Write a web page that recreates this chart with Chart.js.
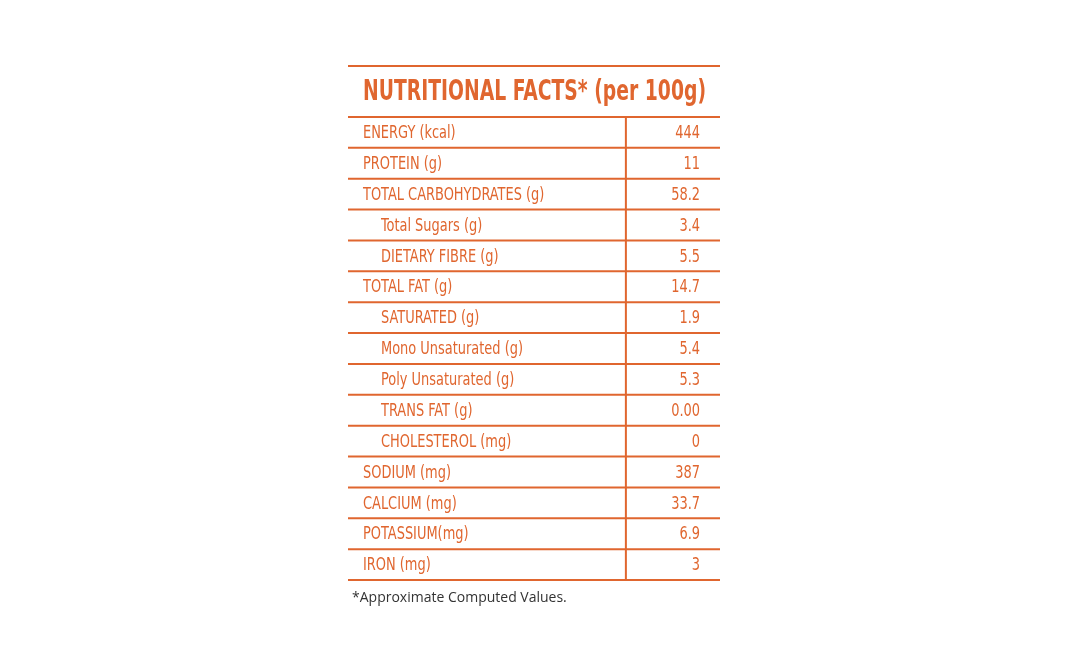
<!DOCTYPE html>
<html>
<head>
<meta charset="utf-8">
<script src="https://cdn.jsdelivr.net/npm/chart.js@4"></script>
<style>
  html, body { margin: 0; padding: 0; background: #fff; }
  #wrap { width: 1068px; height: 671px; }
</style>
</head>
<body>
<div id="wrap"><canvas id="tabla"></canvas></div>
<script>
// Datos de la tabla nutricional
const nutrientes = ['ENERGY (kcal)', 'PROTEIN (g)', 'TOTAL CARBOHYDRATES (g)', 'Total Sugars (g)', 'DIETARY FIBRE (g)',
  'TOTAL FAT (g)', 'SATURATED (g)', 'Mono Unsaturated (g)', 'Poly Unsaturated (g)', 'TRANS FAT (g)',
  'CHOLESTEROL (mg)', 'SODIUM (mg)', 'CALCIUM (mg)', 'POTASSIUM(mg)', 'IRON (mg)'];
const valores = [444, 11, 58.2, 3.4, 5.5, 14.7, 1.9, 5.4, 5.3, 0, 0, 387, 33.7, 6.9, 3];
const textoValores = ['444', '11', '58.2', '3.4', '5.5', '14.7', '1.9', '5.4', '5.3', '0.00', '0', '387', '33.7', '6.9', '3'];
const sangria = [false, false, false, true, true, false, true, true, true, true, true, false, false, false, false];
const titulo = 'NUTRITIONAL FACTS* (per 100g)';
const nota = '*Approximate Computed Values.';

const naranja = '#e0662f';
const fuente = '"Liberation Sans Narrow", "DejaVu Sans Condensed", "Roboto", sans-serif';

// Texto comprimido horizontalmente (fuente condensada)
function textoEstrecho(ctx, txt, x, y, factor) {
  const ancho = ctx.measureText(txt).width * factor;
  ctx.fillText(txt, x, y, ancho);
}

// Plugin que dibuja la tabla usando la escala y
const tablaPlugin = {
  id: 'tabla',
  afterDraw(chart) {
    const ctx = chart.ctx;
    const area = chart.chartArea;
    const y = chart.scales.y;
    const alto = (area.bottom - area.top) / nutrientes.length;
    const colDiv = area.left + (area.right - area.left) * 0.747;
    ctx.save();
    ctx.strokeStyle = naranja;
    ctx.fillStyle = naranja;
    ctx.lineWidth = 2;

    // Encabezado
    ctx.beginPath();
    ctx.moveTo(area.left, area.top - 51); ctx.lineTo(area.right, area.top - 51);
    ctx.stroke();
    ctx.font = 'bold 28px ' + fuente;
    ctx.textBaseline = 'middle';
    ctx.textAlign = 'left';
    ctx.fillText(titulo, area.left + 15, area.top - 24, 343);

    // Filas
    for (let i = 0; i < nutrientes.length; i++) {
      const yc = y.getPixelForValue(i);
      const top = yc - alto / 2;
      ctx.beginPath();
      ctx.moveTo(area.left, top); ctx.lineTo(area.right, top);
      ctx.stroke();
      ctx.font = '18px ' + fuente;
      ctx.textAlign = 'left';
      textoEstrecho(ctx, nutrientes[i], area.left + (sangria[i] ? 33 : 15), yc + 1, 0.8);
      ctx.textAlign = 'right';
      textoEstrecho(ctx, textoValores[i], area.right - 20, yc + 1, 0.8);
    }
    ctx.beginPath();
    ctx.moveTo(area.left, area.bottom); ctx.lineTo(area.right, area.bottom);
    ctx.stroke();

    // Divisor vertical
    ctx.beginPath();
    ctx.moveTo(colDiv, area.top); ctx.lineTo(colDiv, area.bottom);
    ctx.stroke();

    // Nota al pie
    ctx.fillStyle = '#333';
    ctx.font = '14px "Open Sans", sans-serif';
    ctx.textAlign = 'left';
    ctx.fillText(nota, area.left + 4, area.bottom + 18);
    ctx.restore();
  }
};

new Chart(document.getElementById('tabla'), {
  type: 'bar',
  data: {
    labels: nutrientes,
    datasets: [{ data: valores, backgroundColor: 'rgba(0,0,0,0)', borderWidth: 0 }]
  },
  options: {
    indexAxis: 'y',
    responsive: true,
    maintainAspectRatio: false,
    animation: false,
    layout: { padding: { left: 348, right: 348, top: 117, bottom: 91 } },
    plugins: { legend: { display: false }, tooltip: { enabled: false } },
    scales: {
      x: { display: false },
      y: { display: false, offset: true }
    }
  },
  plugins: [tablaPlugin]
});
</script>
</body>
</html>
